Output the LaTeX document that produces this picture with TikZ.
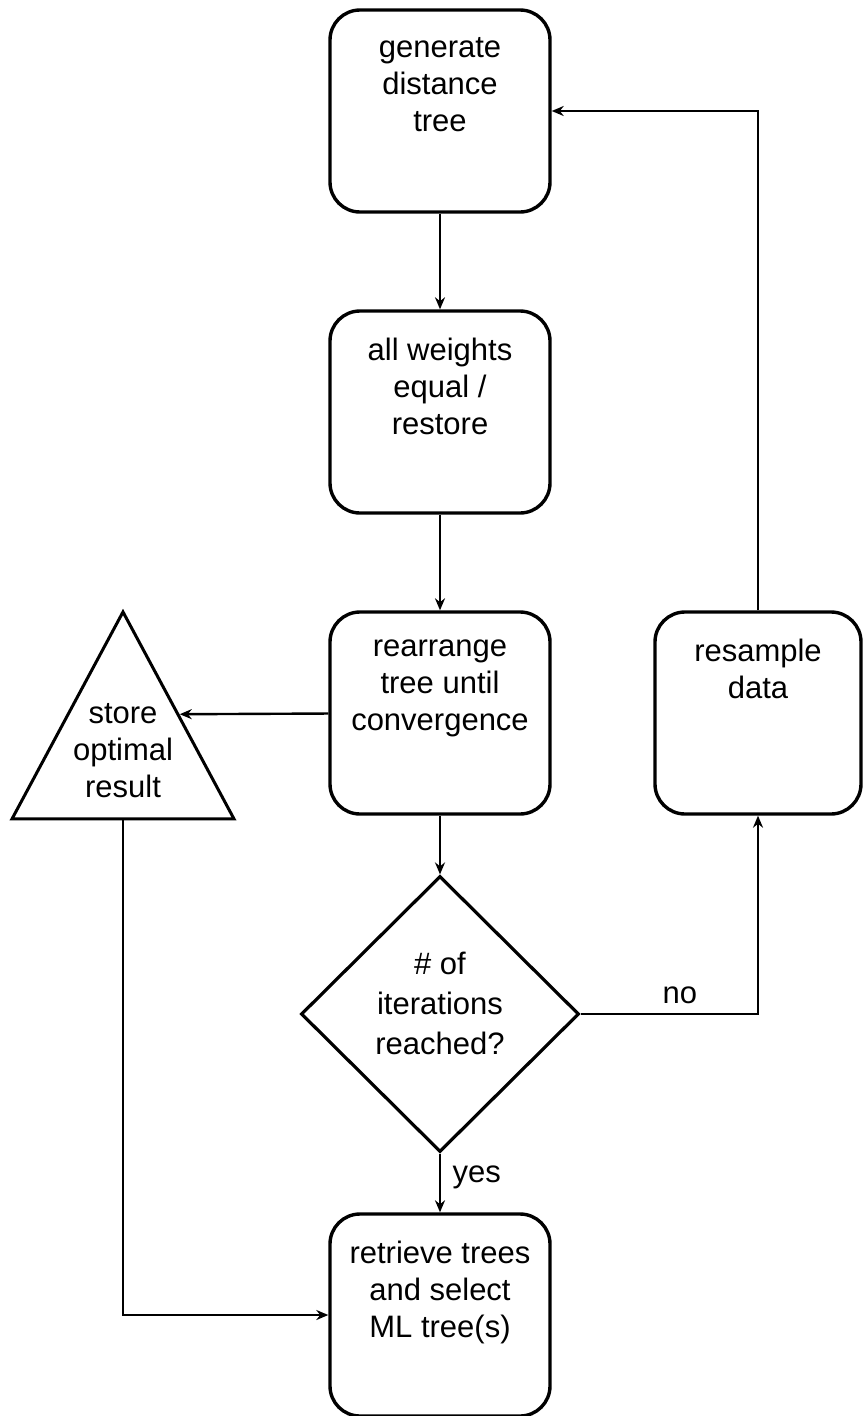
\documentclass[tikz,border=0pt]{standalone}
\usepackage{fontspec}
\setmainfont{Liberation Sans}
\usetikzlibrary{shapes.geometric, positioning, arrows.meta}
\tikzset{
->, % directed connectors
>={Stealth[length=12pt, width=10pt]}, % arrow heads
node distance=301pt, % centre to centre distance down the main column
every node/.style={font=\fontsize{31}{37}\selectfont},
stepbox/.style={draw, line width=3.4pt, rounded corners=30pt, minimum width=220pt, minimum height=202pt, inner sep=0pt}, % the rounded process boxes
boxtext/.style={anchor=north, yshift=-28pt, align=center, inner sep=0pt, execute at begin node={\rule{0pt}{24pt}}}, % text at the top of a shape
decision/.style={draw, diamond, aspect=1, line width=3.2pt, minimum width=278pt, minimum height=276pt, inner sep=0pt},
storebox/.style={draw, isosceles triangle, shape border rotate=90, isosceles triangle stretches, line width=3pt, minimum width=222pt, minimum height=207pt, inner sep=0pt},
}

\begin{document}
\begin{tikzpicture}[x=1pt, y=-1pt, line width=2.4pt]
    \useasboundingbox (0,0) rectangle (863,1416);
    \node[stepbox, label={[boxtext]north:generate\\distance\\tree}] (gen) at (440,111) {};
    \node[stepbox, below of=gen, label={[boxtext]north:all weights\\equal /\\restore}] (weights) {};
    \node[stepbox, below of=weights, label={[boxtext]north:rearrange\\tree until\\convergence}] (rearrange) {};
    \node[decision, below of=rearrange, label={[boxtext, yshift=-48pt, font=\fontsize{31}{40}\selectfont]north:\# of\\iterations\\reached?}] (iter) {};
    \node[stepbox, below of=iter, label={[boxtext]north:retrieve trees\\and select\\ML tree(s)}] (retrieve) {};
    \node[stepbox, minimum width=206pt, node distance=318pt, right of=rearrange, label={[boxtext]north:resample\\data}] (resample) {};
    \node[storebox, anchor=north, label={[boxtext, yshift=-66pt]north:store\\optimal\\result}] (store) at (123,608) {};
    \draw (gen) -- (weights);
    \draw (weights) -- (rearrange);
    \draw (rearrange) -- (iter);
    \draw (rearrange) -- (store.right side);
    \draw (iter) -- node[right, xshift=8pt, pos=0.4] {yes} (retrieve);
    \draw (iter.east) -| node[pos=0.28, above, yshift=6pt] {no} (resample);
    \draw (resample) |- (gen);
    \draw (store) |- (retrieve);
\end{tikzpicture}
\end{document}
